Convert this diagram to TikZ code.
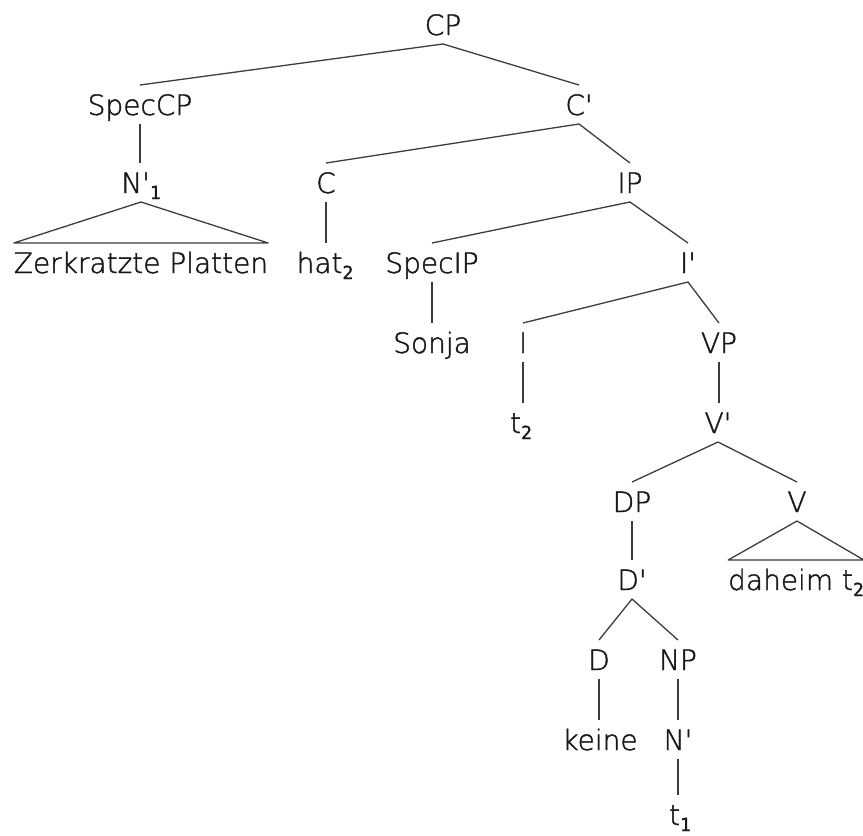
\documentclass[tikz,border=0pt]{standalone}
\usepackage{fontspec}
\newfontfamily\lab[FakeBold=1.5]{DejaVu Sans ExtraLight}
\newfontfamily\subfont[FakeBold=1.5]{DejaVu Sans Mono}
\newcommand\idx[1]{\raisebox{-6pt}{\subfont\fontsize{18}{18}\selectfont #1}}
\definecolor{edgec}{RGB}{60,60,60}
\definecolor{textc}{RGB}{25,25,25}
\tikzset{
  lbl/.style={font=\lab\fontsize{28}{28}\selectfont, text=textc, anchor=base,
    inner xsep=0pt, inner ysep=9pt, outer sep=0pt, text height=21pt, text depth=0pt},
  edge/.style={draw=edgec, line width=1.3pt},
}
\begin{document}
\begin{tikzpicture}[x=1pt, y=-1pt]
\useasboundingbox (0,0) rectangle (863,836);
% labels, placed on their baselines
\node[lbl] (cp)     at (443,35)  {CP};
\node[lbl] (speccp) at (140,115) {SpecCP};
\node[lbl] (cbar)   at (579,115) {C'};
\node[lbl] (nbar1)  at (141,193) {N'\idx{1}};
\node[lbl] (c)      at (326,193) {C};
\node[lbl] (ip)     at (630,193) {IP};
\node[lbl] (zp)     at (141,273) {Zerkratzte Platten};
\node[lbl] (hat)    at (325,273) {hat\idx{2}};
\node[lbl] (specip) at (432,273) {SpecIP};
\node[lbl] (ibar)   at (688,273) {I'};
\node[lbl] (sonja)  at (432,353) {Sonja};
\node[lbl] (i)      at (523,353) {I};
\node[lbl] (vp)     at (719,353) {VP};
\node[lbl] (t2)     at (521,433) {t\idx{2}};
\node[lbl] (vbar)   at (718,433) {V'};
\node[lbl] (dp)     at (632,512) {DP};
\node[lbl] (v)      at (797,512) {V};
\node[lbl] (dbar)   at (632,590) {D'};
\node[lbl] (daheim) at (796,590) {daheim t\idx{2}};
\node[lbl] (d)      at (599,670) {D};
\node[lbl] (np)     at (678,670) {NP};
\node[lbl] (keine)  at (600,750) {keine};
\node[lbl] (nbar)   at (678,750) {N'};
\node[lbl] (t1)     at (680,825) {t\idx{1}};
% branching edges
\draw[edge] (speccp.north) -- (cp.south) -- (cbar.north);
\draw[edge] (c.north) -- (cbar.south) -- (ip.north);
\draw[edge] (specip.north) -- (ip.south) -- (ibar.north);
\draw[edge] (i.north) -- (ibar.south) -- (vp.north);
\draw[edge] (dp.north) -- (vbar.south) -- (v.north);
\draw[edge] (d.north) -- (dbar.south) -- (np.north);
% unary edges, kept vertical under the mother
\draw[edge] (c.south) -- (c.south |- hat.north);
\draw[edge] (specip.south) -- (specip.south |- sonja.north);
\draw[edge] (i.south) -- (i.south |- t2.north);
\draw[edge] (vp.south) -- (vp.south |- vbar.north);
\draw[edge] (dp.south) -- (dp.south |- dbar.north);
\draw[edge] (d.south) -- (d.south |- keine.north);
\draw[edge] (np.south) -- (np.south |- nbar.north);
\draw[edge] (nbar.south) -- (nbar.south |- t1.north);
\draw[edge] (speccp.south) -- (speccp.south |- nbar1.north);
% roofs over unanalysed phrases
\draw[edge, line join=round] (nbar1.south) -- (zp.north west) -- (zp.north east) -- cycle;
\draw[edge, line join=round] (v.south) -- (daheim.north west) -- (daheim.north east) -- cycle;
\end{tikzpicture}
\end{document}
